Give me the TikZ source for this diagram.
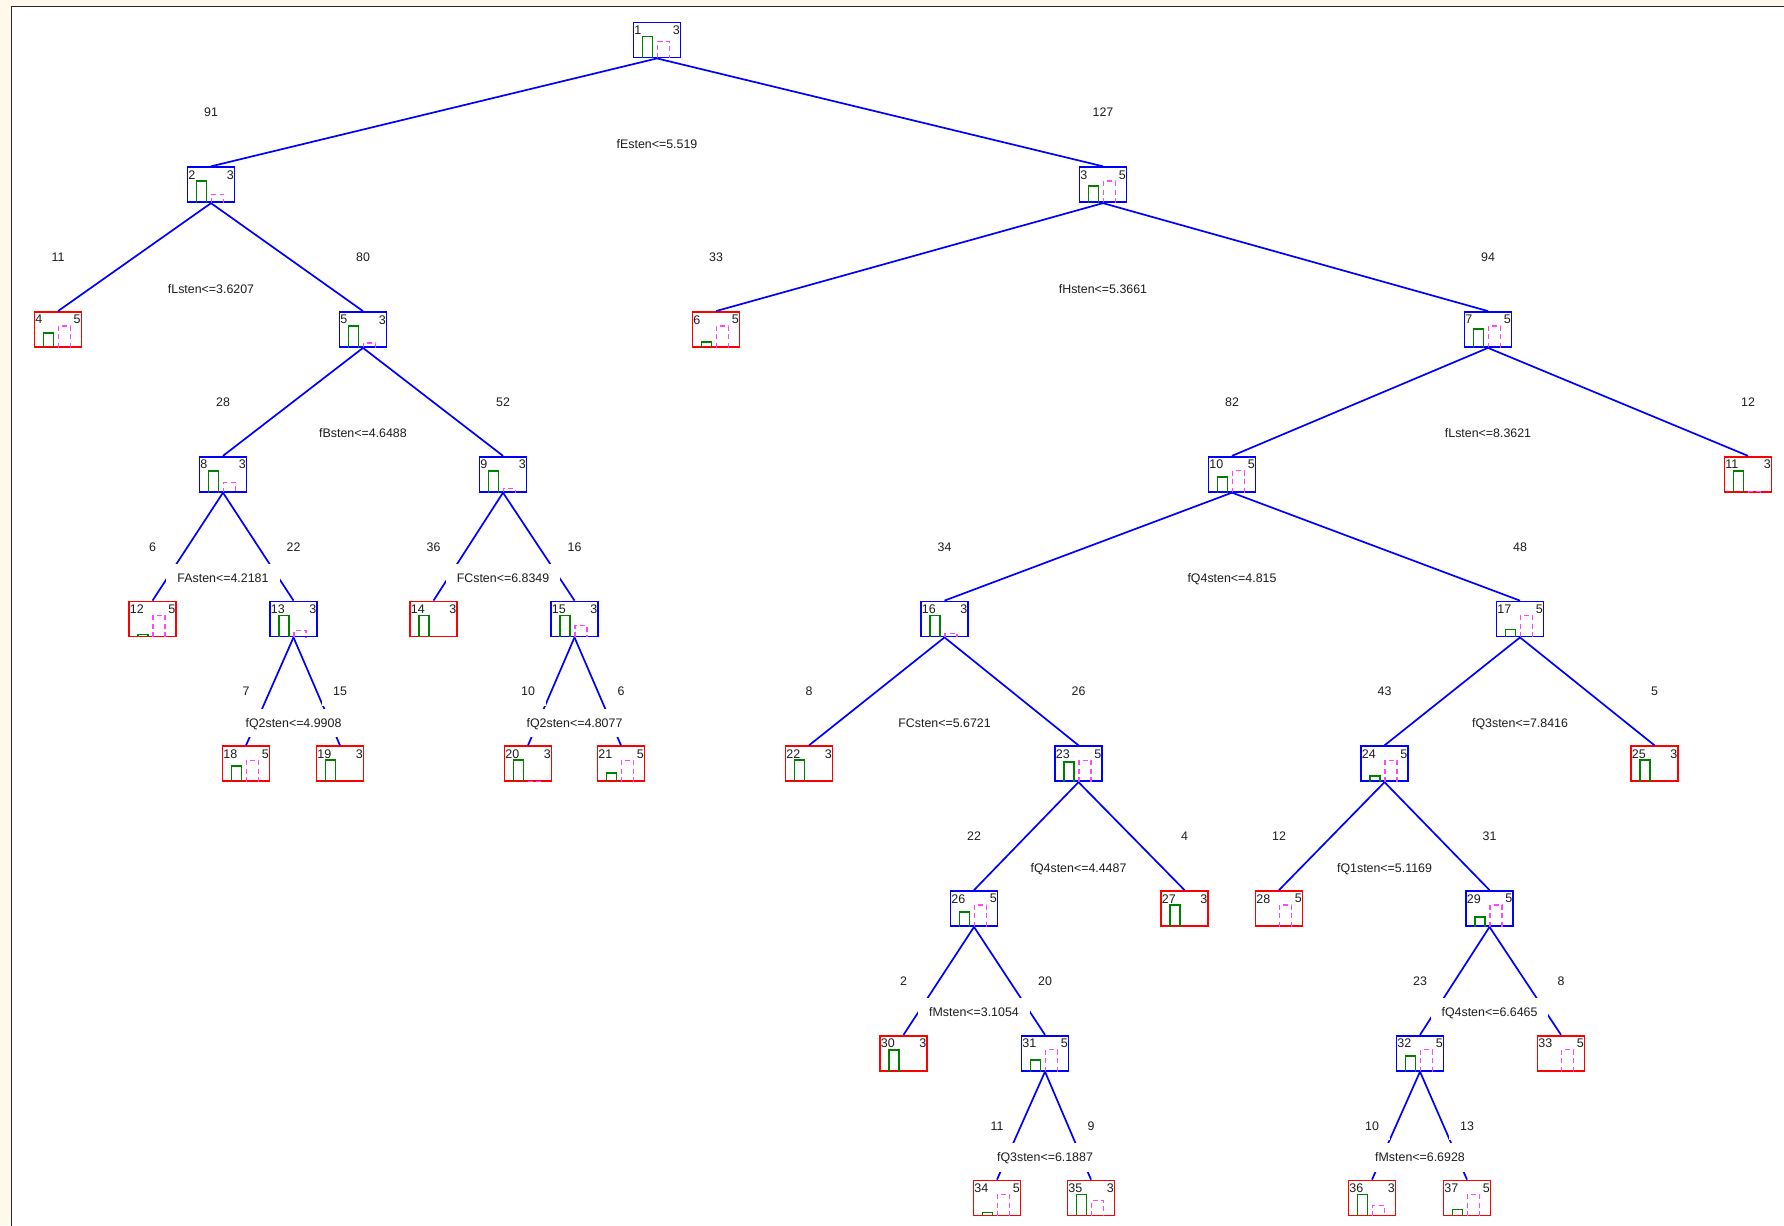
\documentclass[tikz,border=0pt]{standalone}
\usepackage{fontspec}
\setmainfont{Liberation Sans}
\definecolor{treeblue}{RGB}{0,0,255}
\definecolor{treered}{RGB}{255,0,0}
\definecolor{treegreen}{RGB}{0,128,0}
\definecolor{treemag}{RGB}{255,70,255}
\definecolor{cream}{RGB}{255,249,236}
\definecolor{textgray}{RGB}{30,30,30}
\newcommand\treebox[7]{%
  \node[#5] (n#1) at (#2,#3) {};
  \ifnum#6>0 \draw[gbar] ([xshift=10pt]n#1.south west) -- ++(0,-#6) -- ++(10,0) -- ++(0,#6);\fi
  \ifnum#7>0 \draw[mbar] ([xshift=25pt]n#1.south west) -- ++(0,-#7) -- ++(12,0) -- ++(0,#7);\fi
  \node[nlab, anchor=north west] at ([xshift=1.5pt,yshift=-4pt]n#1.north west) {#1};
  \node[nlab, anchor=north east] at ([xshift=-1.5pt,yshift=-4pt]n#1.north east) {#4};
}
\newcommand\tsplit[6]{%
  \path (n#1.center) ++(0,72.5) coordinate (tmpa) ++(0,31.5) coordinate (tmpb);
  \node[clab] (c#2) at (n#2 |- tmpa) {#4};
  \node[clab] (c#3) at (n#3 |- tmpa) {#5};
  \node[clab] (s#1) at (tmpb) {#6};
}
\begin{document}
\begin{tikzpicture}[x=1pt,y=-1pt,
  tbox/.style={rectangle, minimum width=47pt, minimum height=35pt, inner sep=0pt, line width=1.8pt},
  ibox/.style={tbox, draw=treeblue},
  lbox/.style={tbox, draw=treered},
  nlab/.style={inner sep=0pt, font=\fontsize{12.5}{12.5}\selectfont, text=textgray},
  conn/.style={draw=treeblue, line width=1.7pt},
  clab/.style={fill=white, inner xsep=11pt, inner ysep=10pt, text height=8.8pt, text depth=0pt, font=\fontsize{12.4}{12.4}\selectfont, text=textgray},
  gbar/.style={draw=treegreen, line width=1.7pt},
  mbar/.style={draw=treemag, line width=1.3pt, dash pattern=on 5pt off 3.5pt}
]
\clip (0,0) rectangle (1784,1225);
\useasboundingbox (0,0) rectangle (1784,1225);
\fill[cream] (0,0) rectangle (1784,1225);
\draw[black!85, line width=1.6pt, fill=white] (11.5,6.5) rectangle (1800,1240);

\treebox{1}{657}{40}{3}{ibox}{22}{17}
\treebox{2}{211}{184.75}{3}{ibox}{22}{9}
\treebox{3}{1103}{184.75}{5}{ibox}{17}{22}
\treebox{4}{58}{329.5}{5}{lbox}{15}{22}
\treebox{5}{363}{329.5}{3}{ibox}{22}{5}
\treebox{6}{716}{329.5}{5}{lbox}{6}{22}
\treebox{7}{1488}{329.5}{5}{ibox}{19}{22}
\treebox{8}{223}{474.25}{3}{ibox}{22}{10}
\treebox{9}{503}{474.25}{3}{ibox}{22}{4}
\treebox{10}{1232}{474.25}{5}{ibox}{16}{22}
\treebox{11}{1748}{474.25}{3}{lbox}{22}{1}
\treebox{12}{152.5}{619}{5}{lbox}{3}{22}
\treebox{13}{293.5}{619}{3}{ibox}{22}{7}
\treebox{14}{433.5}{619}{3}{lbox}{22}{0}
\treebox{15}{574.5}{619}{3}{ibox}{22}{12}
\treebox{16}{944.5}{619}{3}{ibox}{22}{4}
\treebox{17}{1520}{619}{5}{ibox}{8}{22}
\treebox{18}{246}{763.75}{5}{lbox}{16}{22}
\treebox{19}{340}{763.75}{3}{lbox}{22}{0}
\treebox{20}{528}{763.75}{3}{lbox}{22}{1}
\treebox{21}{621}{763.75}{5}{lbox}{9}{22}
\treebox{22}{809}{763.75}{3}{lbox}{22}{0}
\treebox{23}{1078.5}{763.75}{5}{ibox}{20}{22}
\treebox{24}{1384.5}{763.75}{5}{ibox}{6}{22}
\treebox{25}{1654.5}{763.75}{3}{lbox}{22}{0}
\treebox{26}{974}{908.5}{5}{ibox}{15}{22}
\treebox{27}{1184.5}{908.5}{3}{lbox}{22}{0}
\treebox{28}{1279}{908.5}{5}{lbox}{0}{22}
\treebox{29}{1489.5}{908.5}{5}{ibox}{10}{22}
\treebox{30}{903.5}{1053.25}{3}{lbox}{22}{0}
\treebox{31}{1045}{1053.25}{5}{ibox}{12}{22}
\treebox{32}{1420}{1053.25}{5}{ibox}{16}{22}
\treebox{33}{1561}{1053.25}{5}{lbox}{0}{22}
\treebox{34}{997}{1198}{5}{lbox}{4}{22}
\treebox{35}{1091}{1198}{3}{lbox}{22}{16}
\treebox{36}{1372}{1198}{3}{lbox}{22}{11}
\treebox{37}{1467}{1198}{5}{lbox}{7}{22}

\foreach \p/\c in {1/2,1/3,2/4,2/5,3/6,3/7,5/8,5/9,7/10,7/11,8/12,8/13,9/14,9/15,10/16,10/17,13/18,13/19,15/20,15/21,16/22,16/23,17/24,17/25,23/26,23/27,24/28,24/29,26/30,26/31,29/32,29/33,31/34,31/35,32/36,32/37}
  \draw[conn] (n\p.south) -- (n\c.north);

\tsplit{1}{2}{3}{91}{127}{fEsten<=5.519}
\tsplit{2}{4}{5}{11}{80}{fLsten<=3.6207}
\tsplit{3}{6}{7}{33}{94}{fHsten<=5.3661}
\tsplit{5}{8}{9}{28}{52}{fBsten<=4.6488}
\tsplit{7}{10}{11}{82}{12}{fLsten<=8.3621}
\tsplit{8}{12}{13}{6}{22}{FAsten<=4.2181}
\tsplit{9}{14}{15}{36}{16}{FCsten<=6.8349}
\tsplit{10}{16}{17}{34}{48}{fQ4sten<=4.815}
\tsplit{13}{18}{19}{7}{15}{fQ2sten<=4.9908}
\tsplit{15}{20}{21}{10}{6}{fQ2sten<=4.8077}
\tsplit{16}{22}{23}{8}{26}{FCsten<=5.6721}
\tsplit{17}{24}{25}{43}{5}{fQ3sten<=7.8416}
\tsplit{23}{26}{27}{22}{4}{fQ4sten<=4.4487}
\tsplit{24}{28}{29}{12}{31}{fQ1sten<=5.1169}
\tsplit{26}{30}{31}{2}{20}{fMsten<=3.1054}
\tsplit{29}{32}{33}{23}{8}{fQ4sten<=6.6465}
\tsplit{31}{34}{35}{11}{9}{fQ3sten<=6.1887}
\tsplit{32}{36}{37}{10}{13}{fMsten<=6.6928}
\end{tikzpicture}
\end{document}
